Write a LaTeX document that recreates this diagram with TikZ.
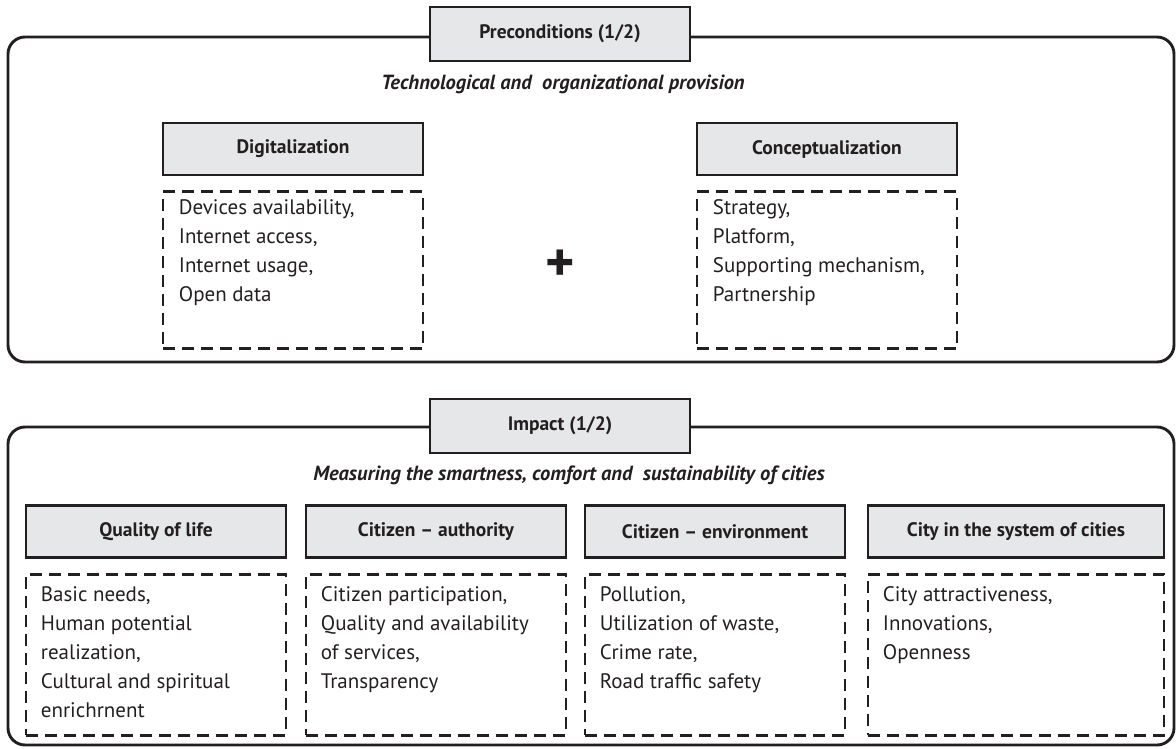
\documentclass[tikz,border=0pt]{standalone}
\usepackage{fontspec}
\setmainfont{PT Sans}
\usetikzlibrary{positioning}

\definecolor{boxgrey}{HTML}{E6E7E8}
\definecolor{inkgrey}{HTML}{231F20}

\tikzset{
  frame/.style={draw=inkgrey, line width=2.9pt, rounded corners=17pt},
  tabbox/.style={draw=inkgrey, fill=boxgrey, line width=2.9pt, minimum width=260pt, minimum height=54pt, font=\fontsize{19.5}{23}\selectfont\bfseries, text=inkgrey},
  headbox/.style={draw=inkgrey, fill=boxgrey, line width=2.9pt, minimum width=260pt, minimum height=52pt, font=\fontsize{19.5}{23}\selectfont\bfseries, text=inkgrey},
  dashbox/.style={draw=inkgrey, line width=2.6pt, dash pattern=on 12pt off 7pt, minimum width=260pt},
  itemtext/.style={anchor=north west, inner sep=0pt, align=left, font=\fontsize{21}{29}\selectfont, text=inkgrey},
  subtitle/.style={font=\fontsize{20.5}{24}\selectfont\bfseries\itshape, text=inkgrey},
}

\begin{document}
\begin{tikzpicture}[x=1pt, y=-1pt]
  \useasboundingbox (0,0) rectangle (1176,749);

  % preconditions part
  \draw[frame] (8,37) rectangle (1174,362);
  \node[tabbox] (pre) at (560,34) {Preconditions (1/2)};
  \node[subtitle, anchor=base] (pre_sub) at (563,90) {Technological and\ \ organizational provision};

  \node[headbox] (dig) at (293,149) {Digitalization};
  \node[headbox] (con) at (827,149) {Conceptualization};
  \node[dashbox, minimum height=157pt, below=14pt of dig] (dig_list) {};
  \node[dashbox, minimum height=157pt, below=14pt of con] (con_list) {};
  \node[itemtext] at ([xshift=17pt, yshift=-9pt]dig_list.north west)
    {Devices availability,\\ Internet access,\\ Internet usage,\\ Open data};
  \node[itemtext] at ([xshift=17pt, yshift=-9pt]con_list.north west)
    {Strategy,\\ Platform,\\ Supporting mechanism,\\ Partnership};
  \node[font=\fontsize{56}{56}\selectfont\bfseries, text=inkgrey] (plus) at (560,266) {+};

  % impact part
  \draw[frame] (8,427) rectangle (1174,745);
  \node[tabbox] (imp) at (560,426) {Impact (1/2)};
  \node[subtitle, anchor=base] (imp_sub) at (569,480) {Measuring the smartness, comfort and\ \ sustainability of cities};

  \node[headbox] (qol) at (156,531.5) {Quality of life};
  \node[headbox] (auth) at (436,531.5) {Citizen -- authority};
  \node[headbox] (env) at (715,531.5) {Citizen -- environment};
  \node[headbox, minimum width=296pt] (sys) at (1016,531.5) {City in the system of cities};
  \node[dashbox, minimum height=161pt, below=14pt of qol] (qol_list) {};
  \node[dashbox, minimum height=161pt, below=14pt of auth] (auth_list) {};
  \node[dashbox, minimum height=161pt, below=14pt of env] (env_list) {};
  \node[dashbox, minimum height=161pt, minimum width=296pt, below=14pt of sys] (sys_list) {};
  \node[itemtext] at ([xshift=16pt, yshift=-13pt]qol_list.north west)
    {Basic needs,\\ Human potential\\ realization,\\ Cultural and spiritual\\ enrichrnent};
  \node[itemtext] at ([xshift=16pt, yshift=-13pt]auth_list.north west)
    {Citizen participation,\\ Quality and availability\\ of services,\\ Transparency};
  \node[itemtext] at ([xshift=16pt, yshift=-13pt]env_list.north west)
    {Pollution,\\ Utilization of waste,\\ Crime rate,\\ Road traffic safety};
  \node[itemtext] at ([xshift=16pt, yshift=-13pt]sys_list.north west)
    {City attractiveness,\\ Innovations,\\ Openness};
\end{tikzpicture}
\end{document}
